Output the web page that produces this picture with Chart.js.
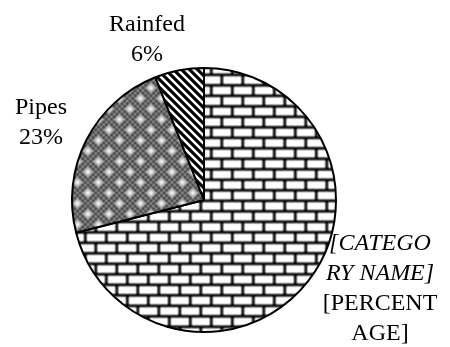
<!DOCTYPE html>
<html>
<head>
<meta charset="utf-8">
<script src="https://cdn.jsdelivr.net/npm/chart.js@4/dist/chart.umd.min.js"></script>
<style>
  html, body { margin: 0; padding: 0; background: #ffffff; }
  #wrap { width: 450px; height: 347px; position: relative; }
</style>
</head>
<body>
<div id="wrap"><canvas id="pie" width="450" height="347"></canvas></div>
<script>
// Water source shares (percent)
const categories = ['[CATEGORY NAME]', 'Pipes', 'Rainfed'];
const shares = [71, 23, 6];

// Text shown beside each slice: category lines then value lines
const categoryLines = [['[CATEGO', 'RY NAME]'], ['Pipes'], ['Rainfed']];
const valueLines = [['[PERCENT', 'AGE]'], null, null];

// ---- fill patterns -------------------------------------------------
// Build a soft 21px tile from an 8x8 bitmap (values index into a palette).
function bitmapTile(bits, palette) {
  const n = 8;
  const src = document.createElement('canvas');
  src.width = src.height = n * 3;
  const sc = src.getContext('2d');
  for (let ty = 0; ty < 3; ty++)
    for (let tx = 0; tx < 3; tx++)
      for (let y = 0; y < n; y++)
        for (let x = 0; x < n; x++) {
          sc.fillStyle = palette[bits[y][x]];
          sc.fillRect(tx * n + x, ty * n + y, 1, 1);
        }
  const big = document.createElement('canvas');
  big.width = big.height = 63;
  const bc = big.getContext('2d');
  bc.imageSmoothingEnabled = true;
  bc.imageSmoothingQuality = 'high';
  bc.drawImage(src, 0, 0, 63, 63);
  const tile = document.createElement('canvas');
  tile.width = tile.height = 21;
  tile.getContext('2d').drawImage(big, 21, 21, 21, 21, 0, 0, 21, 21);
  return tile;
}

function brickBits() {
  const b = [];
  for (let y = 0; y < 8; y++) {
    const row = [];
    for (let x = 0; x < 8; x++) {
      const dark = (y === 0 || y === 4) ||
                   (y < 4 && x === 0) || (y > 4 && x === 4);
      row.push(dark ? 1 : 0);
    }
    b.push(row);
  }
  return b;
}

// fine checker with small light crosses
function checkerBits() {
  const b = [];
  for (let y = 0; y < 8; y++) {
    const row = [];
    for (let x = 0; x < 8; x++) row.push((x + y) % 2 === 1 ? 1 : 0);
    b.push(row);
  }
  [[1, 1], [5, 5]].forEach(([cx, cy]) => {
    [[1, 0], [-1, 0], [0, 1], [0, -1]].forEach(([dx, dy]) => {
      b[(cy + dy + 8) % 8][(cx + dx + 8) % 8] = 2;
    });
    b[cy][cx] = 3;
  });
  return b;
}

function stripeTile() {
  const p = 8;
  const c = document.createElement('canvas');
  c.width = c.height = p;
  const g = c.getContext('2d');
  g.fillStyle = '#ffffff';
  g.fillRect(0, 0, p, p);
  g.strokeStyle = '#000000';
  g.lineWidth = 3.1;
  for (let k = -2; k <= 2; k++) {
    g.beginPath();
    g.moveTo(k * p - p, -p);
    g.lineTo(k * p + 2 * p, 2 * p);
    g.stroke();
  }
  return c;
}

const ctx = document.getElementById('pie').getContext('2d');
const fills = [
  ctx.createPattern(bitmapTile(brickBits(), ['#ffffff', '#000000']), 'repeat'),
  ctx.createPattern(bitmapTile(checkerBits(), ['#a4a4a4', '#2c2c2c', '#c8c8c8', '#ffffff']), 'repeat'),
  ctx.createPattern(stripeTile(), 'repeat')
];

// ---- slice labels --------------------------------------------------
const labelSpots = [
  { x: 380, y: 249.5, lh: 30.3 },
  { x: 41, y: 113.5, lh: 30.5 },
  { x: 147, y: 30.5, lh: 30.5 }
];

const sliceLabels = {
  id: 'sliceLabels',
  afterDatasetsDraw(chart) {
    const g = chart.ctx;
    const data = chart.data.datasets[0].data;
    const total = data.reduce((a, b) => a + b, 0);
    g.save();
    g.fillStyle = '#000000';
    g.textAlign = 'center';
    g.textBaseline = 'alphabetic';
    data.forEach((v, i) => {
      const spot = labelSpots[i];
      const pct = Math.round(v / total * 100) + '%';
      const catLines = categoryLines[i];
      const valLines = valueLines[i] || [pct];
      const italicCat = i === 0;
      let y = spot.y;
      catLines.forEach(t => {
        g.font = (italicCat ? 'italic ' : '') + '24px "Liberation Serif", "Times New Roman", serif';
        g.fillText(t, spot.x, y);
        y += spot.lh;
      });
      valLines.forEach(t => {
        g.font = '24px "Liberation Serif", "Times New Roman", serif';
        g.fillText(t, spot.x, y);
        y += spot.lh;
      });
    });
    g.restore();
  }
};

new Chart(ctx, {
  type: 'pie',
  data: {
    labels: categories,
    datasets: [{
      data: shares,
      backgroundColor: fills,
      borderColor: '#000000',
      borderWidth: 2
    }]
  },
  options: {
    responsive: false,
    animation: false,
    radius: 132,
    layout: { padding: { left: 72, right: 114, top: 68, bottom: 15 } },
    plugins: {
      legend: { display: false },
      tooltip: { enabled: false }
    }
  },
  plugins: [sliceLabels]
});
</script>
</body>
</html>
